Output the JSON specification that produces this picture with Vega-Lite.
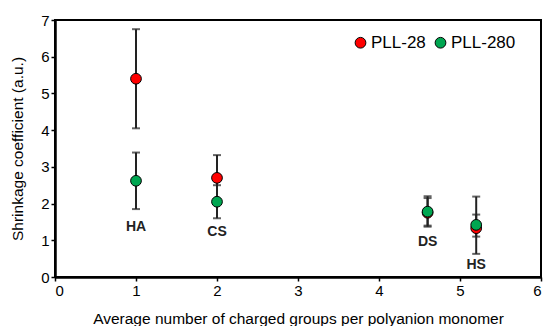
{
  "$schema": "https://vega.github.io/schema/vega-lite/v6.json",
  "width": 486,
  "height": 257,
  "autosize": {"type": "none"},
  "padding": {"left": 55, "top": 20, "right": 5, "bottom": 49},
  "config": {
    "font": "Liberation Sans",
    "view": {"stroke": "black", "strokeWidth": 2},
    "axis": {
      "domainColor": "black", "domainWidth": 2.5, "tickColor": "black", "tickWidth": 1.5, "tickSize": 4,
      "labelFont": "Liberation Sans", "labelFontSize": 15, "labelColor": "black", "labelOverlap": false,
      "titleFont": "Liberation Sans", "titleFontSize": 15.5, "titleFontWeight": "normal", "titleColor": "black",
      "grid": false, "format": "d"
    }
  },
  "datasets": {
    "pts": [
      {"poly": "HA", "x": 1, "series": "PLL-28", "y": 5.4, "lo": 4.05, "hi": 6.75},
      {"poly": "CS", "x": 2, "series": "PLL-28", "y": 2.7, "lo": 2.1, "hi": 3.32},
      {"poly": "DS", "x": 4.6, "series": "PLL-28", "y": 1.75, "lo": 1.4, "hi": 2.15},
      {"poly": "HS", "x": 5.2, "series": "PLL-28", "y": 1.33, "lo": 0.63, "hi": 2.19},
      {"poly": "HA", "x": 1, "series": "PLL-280", "y": 2.62, "lo": 1.85, "hi": 3.39},
      {"poly": "CS", "x": 2, "series": "PLL-280", "y": 2.05, "lo": 1.6, "hi": 2.5},
      {"poly": "DS", "x": 4.6, "series": "PLL-280", "y": 1.78, "lo": 1.37, "hi": 2.2},
      {"poly": "HS", "x": 5.2, "series": "PLL-280", "y": 1.42, "lo": 1.1, "hi": 1.7}
    ],
    "labels": [
      {"poly": "HA", "x": 1, "y": 1.37},
      {"poly": "CS", "x": 2, "y": 1.23},
      {"poly": "DS", "x": 4.6, "y": 0.96},
      {"poly": "HS", "x": 5.2, "y": 0.33}
    ]
  },
  "encoding": {
    "x": {"field": "x", "type": "quantitative", "scale": {"domain": [0, 6], "nice": false}, "axis": {"values": [0,1,2,3,4,5,6], "title": "Average number  of charged groups per polyanion monomer", "titlePadding": 13}},
    "y": {"field": "y", "type": "quantitative", "scale": {"domain": [0, 7], "nice": false}, "axis": {"values": [0,1,2,3,4,5,6,7], "title": "Shrinkage coefficient (a.u.)", "titlePadding": 15}}
  },
  "layer": [
    {
      "data": {"name": "pts"},
      "mark": {"type": "rule", "color": "#222222", "strokeWidth": 2},
      "encoding": {
        "y": {"field": "lo", "type": "quantitative", "scale": {"domain": [0, 7], "nice": false}, "axis": {"values": [0,1,2,3,4,5,6,7], "title": "Shrinkage coefficient (a.u.)", "titlePadding": 15}},
        "y2": {"field": "hi"}
      }
    },
    {
      "data": {"name": "pts"},
      "mark": {"type": "tick", "color": "#222222", "size": 8, "thickness": 2, "orient": "horizontal"},
      "encoding": {
        "y": {"field": "lo", "type": "quantitative", "scale": {"domain": [0, 7], "nice": false}, "axis": {"values": [0,1,2,3,4,5,6,7], "title": "Shrinkage coefficient (a.u.)", "titlePadding": 15}}
      }
    },
    {
      "data": {"name": "pts"},
      "mark": {"type": "tick", "color": "#222222", "size": 8, "thickness": 2, "orient": "horizontal"},
      "encoding": {
        "y": {"field": "hi", "type": "quantitative", "scale": {"domain": [0, 7], "nice": false}, "axis": {"values": [0,1,2,3,4,5,6,7], "title": "Shrinkage coefficient (a.u.)", "titlePadding": 15}}
      }
    },
    {
      "data": {"name": "pts"},
      "mark": {"type": "point", "filled": true, "size": 115, "stroke": "black", "strokeWidth": 1, "opacity": 1},
      "encoding": {
        "fill": {
          "field": "series", "type": "nominal",
          "scale": {"domain": ["PLL-28", "PLL-280"], "range": ["#ff0000", "#00a651"]},
          "legend": {
            "title": null, "orient": "none", "direction": "horizontal", "legendX": 297, "legendY": 14,
            "labelFont": "Liberation Sans", "labelFontSize": 17, "labelColor": "black",
            "symbolType": "circle", "symbolSize": 115, "symbolStrokeColor": "black", "symbolStrokeWidth": 1,
            "symbolOpacity": 1, "columnPadding": 6, "labelOffset": 2
          }
        }
      }
    },
    {
      "data": {"name": "labels"},
      "mark": {"type": "text", "fontSize": 14, "fontWeight": "bold", "color": "#222222", "font": "Liberation Sans"},
      "encoding": {
        "text": {"field": "poly"}
      }
    }
  ]
}
